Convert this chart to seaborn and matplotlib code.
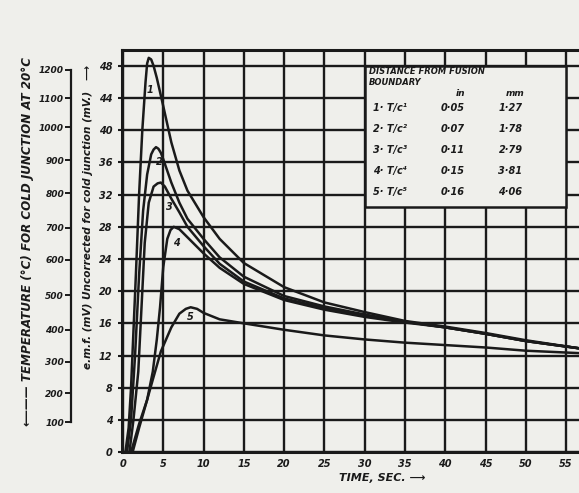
import matplotlib
matplotlib.use("Agg")
import matplotlib.pyplot as plt
import seaborn as sns
import pandas as pd
from matplotlib.patches import Rectangle

# ---- data (time in s, emf in mV) ----
t1 = [0.3, 0.7, 1.0, 1.3, 1.6, 2.0, 2.4, 2.8, 3.0, 3.2, 3.5, 3.8, 4.2, 5.0, 6.0, 7.0, 8.0, 10, 12, 15, 20, 25, 30, 35, 40, 45, 50, 56.6]
v1 = [0.0, 3.0, 8.0, 15, 22, 32, 40, 46, 48.3, 49, 48.8, 48, 46.5, 43, 38.5, 35, 32.5, 29.2, 26.5, 23.5, 20.5, 18.6, 17.4, 16.3, 15.6, 14.8, 13.9, 12.9]

t2 = [0.5, 1.0, 1.5, 2.0, 2.5, 3.0, 3.5, 3.8, 4.1, 4.4, 4.7, 5.0, 6.0, 7.0, 8.0, 10, 12, 15, 20, 25, 30, 35, 40, 45, 50, 56.6]
v2 = [0.0, 4.0, 12, 22, 30, 34.5, 37, 37.6, 37.9, 37.7, 37.2, 36.4, 33.5, 31, 29, 26.5, 24.2, 21.8, 19.4, 18.1, 17.1, 16.2, 15.5, 14.7, 13.8, 12.9]

t3 = [0.8, 1.3, 1.9, 2.3, 2.7, 3.2, 3.8, 4.3, 4.7, 5.2, 6.0, 7.0, 8.0, 10, 12, 15, 20, 25, 30, 35, 40, 45, 50, 56.6]
v3 = [0.0, 4.0, 10, 18, 26, 31, 33, 33.4, 33.5, 33.0, 31.5, 29.8, 28, 25.6, 23.4, 21.2, 19.1, 17.9, 16.9, 16.2, 15.5, 14.7, 13.8, 12.9]

t4 = [1.2, 2.0, 3.0, 3.7, 4.2, 4.6, 5.0, 5.5, 5.9, 6.3, 7.0, 8.0, 10, 12, 15, 20, 25, 30, 35, 40, 45, 50, 56.6]
v4 = [0.0, 3.0, 6.5, 10, 14, 18, 23, 26.5, 27.6, 28, 27.7, 26.7, 24.7, 22.9, 20.9, 18.9, 17.7, 16.8, 16.1, 15.5, 14.7, 13.8, 12.9]

t5 = [1.0, 2.0, 3.0, 3.7, 4.7, 6.0, 7.0, 7.8, 8.4, 9.2, 10, 12, 15, 20, 25, 30, 35, 40, 45, 50, 56.6]
v5 = [0.0, 3.5, 6.5, 9.0, 12.5, 15.5, 17.2, 17.8, 18.0, 17.8, 17.3, 16.5, 16.0, 15.2, 14.5, 14.0, 13.6, 13.3, 13.0, 12.6, 12.3]

curve_ids = ["1", "2", "3", "4", "5"]
curve_label_t = [3.3, 4.5, 5.7, 6.6, 8.4]
curve_label_v = [45.0, 36.0, 30.5, 26.0, 16.8]

x_ticks = [0, 5, 10, 15, 20, 25, 30, 35, 40, 45, 50, 55]
mv_ticks = [0, 4, 8, 12, 16, 20, 24, 28, 32, 36, 40, 44, 48]
temp_labels = ["100", "200", "300", "400", "500", "600", "700", "800", "900", "1000", "1100", "1200"]
temp_mv_pos = [3.7, 7.3, 11.2, 15.2, 19.5, 23.9, 27.9, 32.2, 36.3, 40.4, 44.0, 47.5]

table_rows = ["1· T/c¹", "2· T/c²", "3· T/c³", "4· T/c⁴", "5· T/c⁵"]
table_in = ["0·05", "0·07", "0·11", "0·15", "0·16"]
table_mm = ["1·27", "1·78", "2·79", "3·81", "4·06"]

# ---- build long table ----
frames = []
for cid, tt, vv in zip(curve_ids, [t1, t2, t3, t4, t5], [v1, v2, v3, v4, v5]):
    frames.append(pd.DataFrame({"time": tt, "emf": vv, "curve": cid}))
df = pd.concat(frames, ignore_index=True)

sns.set_style("white")
bg = "#efefeb"
ink = "#1a1a1a"
plt.rcParams["font.family"] = ["DejaVu Sans"]
fig = plt.figure(figsize=(5.79, 4.93), dpi=100, facecolor=bg)
ax = fig.add_axes([0.211, 0.083, 0.789, 0.816])
ax.set_facecolor(bg)

fkw = dict(fontweight="bold", fontstyle="italic", color=ink)

sns.lineplot(data=df, x="time", y="emf", units="curve", estimator=None,
             sort=False, color=ink, linewidth=1.8, ax=ax, legend=False)

ax.set_xlim(-0.1, 56.6)
ax.set_ylim(0, 50)
ax.set_xticks(x_ticks)
ax.set_yticks(mv_ticks)
ax.set_xticklabels([str(v) for v in x_ticks], fontsize=7, **fkw)
ax.set_yticklabels([str(v) for v in mv_ticks], fontsize=7, **fkw)
ax.tick_params(axis="x", length=3, width=1.5, pad=2, color=ink)
ax.tick_params(axis="y", length=3, width=1.5, pad=4, color=ink)
ax.grid(True, color=ink, linewidth=1.7)
ax.set_axisbelow(True)
for side in ["left", "bottom", "top"]:
    ax.spines[side].set_visible(True)
    ax.spines[side].set_linewidth(2.2)
    ax.spines[side].set_color(ink)
ax.spines["right"].set_visible(False)
ax.set_xlabel("")
ax.set_ylabel("")

# curve numbers
for cid, lt, lv in zip(curve_ids, curve_label_t, curve_label_v):
    ax.text(lt, lv, cid, fontsize=7, ha="center", va="center", zorder=5, **fkw)

# table box
ax.add_patch(Rectangle((30, 30.5), 25, 17.5, facecolor=bg, edgecolor=ink,
                       linewidth=1.8, zorder=3))
ax.text(30.5, 47.3, "DISTANCE FROM FUSION", fontsize=6, ha="left", va="center", zorder=4, **fkw)
ax.text(30.5, 45.9, "BOUNDARY", fontsize=6, ha="left", va="center", zorder=4, **fkw)
ax.text(41.9, 44.6, "in", fontsize=6.5, ha="center", va="center", zorder=4, **fkw)
ax.text(48.7, 44.6, "mm", fontsize=6.5, ha="center", va="center", zorder=4, **fkw)
row_y = [42.8, 40.1, 37.6, 34.9, 32.3]
for r, a, b, y in zip(table_rows, table_in, table_mm, row_y):
    ax.text(31.0, y, r, fontsize=7, ha="left", va="center", zorder=4, **fkw)
    ax.text(39.4, y, a, fontsize=7, ha="left", va="center", zorder=4, **fkw)
    ax.text(46.6, y, b, fontsize=7, ha="left", va="center", zorder=4, **fkw)

# temperature scale
ax2 = ax.twinx()
ax2.set_ylim(ax.get_ylim())
for side in ["right", "top", "bottom"]:
    ax2.spines[side].set_visible(False)
ax2.spines["left"].set_visible(True)
ax2.spines["left"].set_position(("axes", -0.112))
ax2.spines["left"].set_bounds(temp_mv_pos[0], temp_mv_pos[-1])
ax2.spines["left"].set_linewidth(1.6)
ax2.spines["left"].set_color(ink)
ax2.yaxis.set_ticks_position("left")
ax2.yaxis.set_label_position("left")
ax2.set_yticks(temp_mv_pos)
ax2.set_yticklabels(temp_labels, fontsize=6.5, **fkw)
ax2.tick_params(axis="y", length=4, width=1.4, pad=1, color=ink)
ax2.grid(False)
ax2.patch.set_visible(False)

# axis titles
fig.text(0.66, 0.03, "TIME, SEC. ⟶", fontsize=8, ha="center", va="center", **fkw)
fig.text(0.048, 0.51, "⟵—— TEMPERATURE (°C) FOR COLD JUNCTION AT 20°C", fontsize=8.6,
         rotation=90, ha="center", va="center", **fkw)
fig.text(0.152, 0.56, "e.m.f. (mV) Uncorrected for cold junction (mV.)   ⟶", fontsize=7.6,
         rotation=90, ha="center", va="center", **fkw)

fig.savefig("out.png", dpi=100, facecolor=bg)
